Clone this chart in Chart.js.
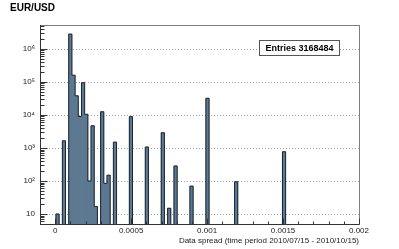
<!DOCTYPE html>
<html>
<head>
<meta charset="utf-8">
<script src="https://cdn.jsdelivr.net/npm/chart.js@4"></script>
<style>
  html, body { margin: 0; padding: 0; background: #fff; }
</style>
</head>
<body>
<canvas id="myChart" width="399" height="249"></canvas>
<script>
// histogram binning: 100 bins from -0.0001 to 0.002
const binStart = -0.0001;
const binEnd = 0.002;
const binCount = 100;

// filled bins (bin number) and their entries
const bins   = [5, 7, 9, 10, 11, 12, 13, 14, 15, 16, 17, 19, 20, 21, 23, 28, 33, 38, 40, 42, 47, 52, 61, 76];
const counts = [10, 1650, 2800000, 160000, 38000, 9000, 95000, 10500, 100, 4700, 17, 12500, 85, 150, 1500, 8900, 1070, 2900, 15, 285, 70, 32000, 95, 770];

const xTicks = [0, 0.0005, 0.001, 0.0015, 0.002];
const yTicks = [10, 100, 1000, 10000, 100000, 1000000];
const yTickLabels = ['10', '10²', '10³', '10⁴', '10⁵', '10⁶'];
const entries = 3168484;

const fontFamily = '"Liberation Sans", Arial, Helvetica, sans-serif';

// build the full histogram from the filled bins
const binWidth = (binEnd - binStart) / binCount;
const barData = [];
const stepData = [];
for (let i = 0; i < binCount; i++) {
    const k = bins.indexOf(i);
    const y = k >= 0 ? counts[k] : null;
    barData.push({ x: binStart + (i + 0.5) * binWidth, y: y });
    // empty bins drop the outline below the axis
    stepData.push({ x: binStart + i * binWidth, y: y === null ? 1 : y });
}
stepData.push({ x: binEnd, y: 1 });

function line(ctx, x1, y1, x2, y2) {
    ctx.beginPath();
    ctx.moveTo(x1, y1);
    ctx.lineTo(x2, y2);
    ctx.stroke();
}

// ROOT style frame: dotted grid, inner ticks, title and stats box
const rootFrame = {
    id: 'rootFrame',
    beforeDatasetsDraw(chart) {
        const { ctx, chartArea: a, scales: { y } } = chart;
        ctx.save();
        ctx.strokeStyle = '#a0a0a0';
        ctx.lineWidth = 1;
        ctx.setLineDash([1, 2]);
        yTicks.forEach(v => {
            const py = Math.round(y.getPixelForValue(v)) + 0.5;
            line(ctx, a.left, py, a.right, py);
        });
        ctx.restore();
    },
    afterDatasetsDraw(chart) {
        const { ctx, chartArea: a, scales: { x, y } } = chart;
        ctx.save();
        ctx.lineWidth = 1;
        // frame
        ctx.strokeStyle = '#808080';
        ctx.strokeRect(Math.round(a.left) + 0.5, Math.round(a.top) + 0.5,
            Math.round(a.right - a.left), Math.round(a.bottom - a.top));
        ctx.strokeStyle = '#333';
        const l = Math.round(a.left) + 0.5;
        const b = Math.round(a.bottom) + 0.5;
        line(ctx, l, a.top, l, b);
        line(ctx, l, b, a.right, b);
        // y ticks (log)
        for (let d = 1; d <= 1e6; d *= 10) {
            for (let m = 1; m <= 9; m++) {
                const v = m * d;
                if (v < y.min || v > y.max) continue;
                const py = Math.round(y.getPixelForValue(v)) + 0.5;
                line(ctx, l, py, l + (m === 1 ? 7 : 4), py);
            }
        }
        // x ticks
        for (let k = -1; k <= 20; k++) {
            const px = Math.round(x.getPixelForValue(k * 0.0001)) + 0.5;
            line(ctx, px, b, px, b - (k % 5 === 0 ? 6 : 3));
        }
        ctx.restore();
    },
    afterDraw(chart) {
        const { ctx } = chart;
        ctx.save();
        ctx.fillStyle = '#000';
        ctx.font = 'bold 10px ' + fontFamily;
        ctx.textBaseline = 'alphabetic';
        ctx.fillText('EUR/USD', 10, 11);
        // stats box
        ctx.fillStyle = '#fff';
        ctx.fillRect(259.5, 40.5, 80, 15);
        ctx.strokeStyle = '#555';
        ctx.strokeRect(259.5, 40.5, 80, 15);
        ctx.fillStyle = '#000';
        ctx.font = 'bold 9px ' + fontFamily;
        ctx.textAlign = 'center';
        ctx.textBaseline = 'middle';
        ctx.fillText('Entries ' + entries, 299.5, 48.5);
        ctx.restore();
    }
};

const config = {
    type: 'bar',
    data: {
        datasets: [
            {
                type: 'line',
                data: stepData,
                stepped: 'before',
                borderColor: '#1c2631',
                borderWidth: 1,
                pointRadius: 0,
                fill: false,
                order: 0
            },
            {
                type: 'bar',
                data: barData,
                backgroundColor: '#5d7891',
                borderWidth: 0,
                barPercentage: 1,
                categoryPercentage: 1,
                order: 1
            }
        ]
    },
    options: {
        responsive: false,
        animation: false,
        layout: { padding: { left: 0, right: 40, top: 25, bottom: 0 } },
        plugins: {
            legend: { display: false },
            tooltip: { enabled: false },
            title: { display: false }
        },
        scales: {
            x: {
                type: 'linear',
                offset: false,
                min: binStart,
                max: binEnd,
                afterBuildTicks: s => { s.ticks = xTicks.map(v => ({ value: v })); },
                afterFit: s => { s.height = 25; },
                grid: { display: false, drawTicks: false },
                border: { display: false },
                ticks: {
                    autoSkip: false,
                    maxRotation: 0,
                    padding: 2,
                    color: '#222',
                    font: { family: fontFamily, size: 8 },
                    callback: v => String(v)
                },
                title: {
                    display: true,
                    text: 'Data spread (time period 2010/07/15 - 2010/10/15)',
                    align: 'end',
                    color: '#222',
                    font: { family: fontFamily, size: 8 },
                    padding: { top: 0, bottom: 3.5 }
                }
            },
            y: {
                type: 'logarithmic',
                min: 5,
                max: 5.3e6,
                afterBuildTicks: s => { s.ticks = yTicks.map(v => ({ value: v })); },
                afterFit: s => { s.width = 40; },
                grid: { display: false, drawTicks: false },
                border: { display: false },
                ticks: {
                    autoSkip: false,
                    padding: 5,
                    color: '#222',
                    font: { family: fontFamily, size: 8 },
                    callback: v => yTickLabels[yTicks.indexOf(v)]
                }
            }
        }
    },
    plugins: [rootFrame]
};

const myChart = new Chart(
    document.getElementById('myChart').getContext('2d'),
    config
);
</script>
</body>
</html>
